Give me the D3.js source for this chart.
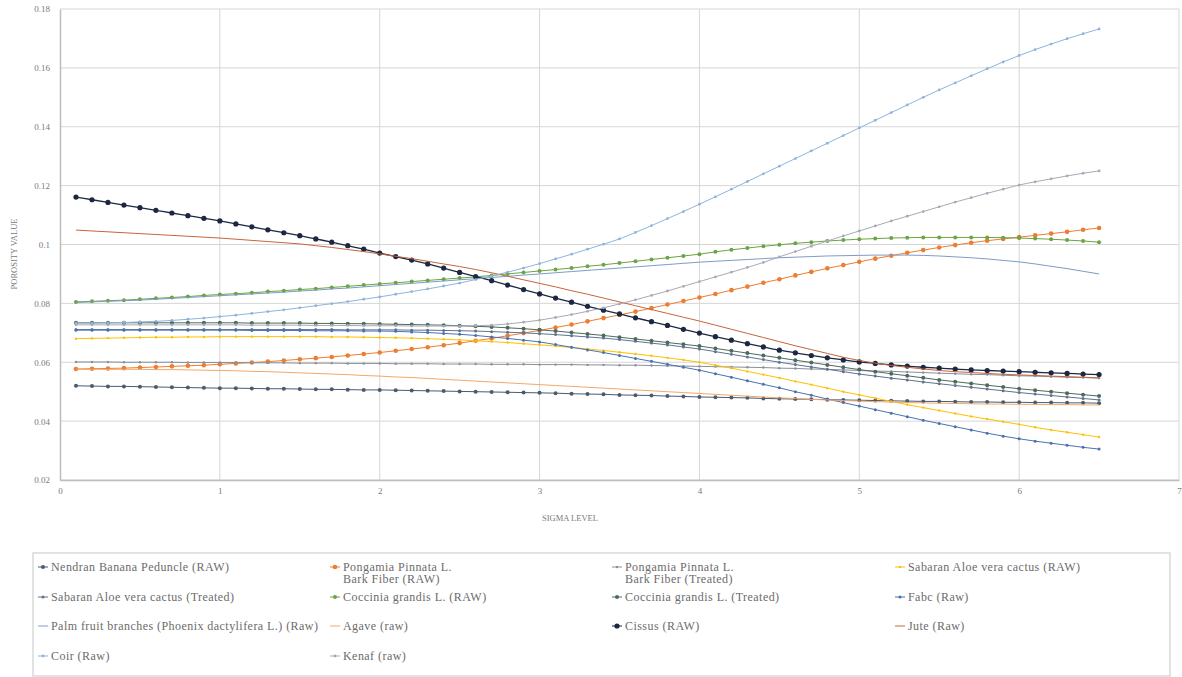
<!DOCTYPE html>
<html>
<head>
<meta charset="utf-8">
<script src="https://cdn.jsdelivr.net/npm/d3@7"></script>
<style>
  html, body { margin: 0; padding: 0; background: #fff; }
  svg { display: block; }
</style>
</head>
<body>
<svg id="chart" width="1182" height="677"></svg>
<script>
// Sigma level sampling points
const sigma = [0.1,0.2,0.3,0.4,0.5,0.6,0.7,0.8,0.9,1.0,1.1,1.2,1.3,1.4,1.5,1.6,1.7,1.8,1.9,2.0,
  2.1,2.2,2.3,2.4,2.5,2.6,2.7,2.8,2.9,3.0,3.1,3.2,3.3,3.4,3.5,3.6,3.7,3.8,3.9,4.0,
  4.1,4.2,4.3,4.4,4.5,4.6,4.7,4.8,4.9,5.0,5.1,5.2,5.3,5.4,5.5,5.6,5.7,5.8,5.9,6.0,
  6.1,6.2,6.3,6.4,6.5];

const xTicks = [0,1,2,3,4,5,6,7];
const yTicks = [0.02,0.04,0.06,0.08,0.1,0.12,0.14,0.16,0.18];

const seriesNames = [
  "Nendran Banana Peduncle (RAW)",
  "Pongamia Pinnata L.\nBark Fiber (RAW)",
  "Pongamia Pinnata L.\nBark Fiber (Treated)",
  "Sabaran Aloe vera cactus (RAW)",
  "Sabaran Aloe vera cactus (Treated)",
  "Coccinia grandis L. (RAW)",
  "Coccinia grandis L. (Treated)",
  "Fabc (Raw)",
  "Palm fruit branches (Phoenix dactylifera L.) (Raw)",
  "Agave (raw)",
  "Cissus (RAW)",
  "Jute (Raw)",
  "Coir (Raw)",
  "Kenaf (raw)"
];

// Porosity values per series, one per sigma point
const nendranRaw = [.0520,.0519,.0518,.0518,.0517,.0516,.0515,.0514,.0513,.0512,.0512,.0511,.0510,.0510,.0509,.0508,.0508,.0507,.0506,.0506,
  .0505,.0504,.0503,.0502,.0501,.0500,.0499,.0498,.0497,.0496,.0495,.0493,.0492,.0491,.0489,.0488,.0487,.0485,.0484,.0482,
  .0481,.0480,.0479,.0477,.0476,.0475,.0474,.0473,.0472,.0471,.0470,.0469,.0468,.0467,.0467,.0466,.0465,.0465,.0464,.0464,
  .0463,.0463,.0462,.0462,.0461];
const pongamiaRaw = [.0577,.0578,.0579,.0580,.0582,.0584,.0586,.0588,.0590,.0593,.0596,.0599,.0602,.0606,.0610,.0614,.0618,.0623,.0628,.0633,
  .0639,.0645,.0651,.0658,.0665,.0673,.0681,.0690,.0699,.0708,.0718,.0728,.0739,.0750,.0761,.0772,.0784,.0796,.0808,.0820,
  .0832,.0845,.0857,.0870,.0882,.0895,.0907,.0919,.0930,.0941,.0952,.0962,.0972,.0981,.0990,.0998,.1006,.1013,.1019,.1025,
  .1031,.1037,.1043,.1050,.1056];
const pongamiaTreated = [.0601,.0601,.0601,.0600,.0600,.0600,.0600,.0599,.0599,.0599,.0599,.0598,.0598,.0598,.0597,.0597,.0597,.0596,.0596,.0596,
  .0595,.0595,.0595,.0594,.0594,.0594,.0593,.0593,.0593,.0592,.0592,.0592,.0591,.0591,.0590,.0590,.0589,.0588,.0587,.0586,
  .0585,.0584,.0583,.0582,.0580,.0579,.0577,.0576,.0574,.0572,.0570,.0569,.0567,.0565,.0563,.0561,.0559,.0558,.0556,.0554,
  .0553,.0551,.0549,.0548,.0546];
const sabaranRaw = [.0680,.0681,.0682,.0683,.0684,.0685,.0685,.0686,.0686,.0687,.0687,.0687,.0687,.0687,.0687,.0687,.0686,.0686,.0685,.0684,
  .0683,.0682,.0680,.0678,.0676,.0673,.0670,.0667,.0663,.0659,.0655,.0650,.0645,.0640,.0634,.0628,.0622,.0615,.0608,.0600,
  .0590,.0580,.0569,.0558,.0547,.0535,.0524,.0512,.0500,.0489,.0478,.0467,.0456,.0446,.0436,.0426,.0416,.0407,.0398,.0389,
  .0379,.0370,.0362,.0354,.0346];
const sabaranTreated = [.0711,.0711,.0711,.0711,.0711,.0711,.0711,.0711,.0711,.0711,.0711,.0711,.0711,.0711,.0711,.0711,.0711,.0710,.0710,.0710,
  .0710,.0709,.0709,.0708,.0707,.0706,.0704,.0702,.0700,.0697,.0694,.0690,.0686,.0682,.0677,.0671,.0665,.0659,.0652,.0645,
  .0636,.0627,.0618,.0609,.0600,.0592,.0584,.0576,.0568,.0560,.0553,.0546,.0540,.0533,.0527,.0521,.0515,.0509,.0503,.0497,
  .0492,.0487,.0482,.0477,.0472];
const cocciniaRaw = [.0805,.0807,.0809,.0811,.0814,.0817,.0820,.0823,.0827,.0830,.0833,.0836,.0840,.0843,.0847,.0850,.0854,.0858,.0862,.0866,
  .0870,.0874,.0878,.0882,.0886,.0890,.0895,.0900,.0905,.0910,.0915,.0920,.0926,.0931,.0937,.0943,.0949,.0955,.0961,.0967,
  .0975,.0982,.0988,.0994,.0999,.1004,.1008,.1012,.1015,.1018,.1020,.1022,.1023,.1024,.1024,.1024,.1024,.1024,.1023,.1022,
  .1020,.1018,.1015,.1012,.1008];
const cocciniaTreated = [.0734,.0734,.0734,.0734,.0734,.0734,.0734,.0734,.0734,.0734,.0734,.0733,.0733,.0733,.0733,.0732,.0732,.0731,.0731,.0730,
  .0729,.0728,.0727,.0726,.0724,.0722,.0720,.0717,.0714,.0710,.0706,.0701,.0696,.0691,.0685,.0679,.0673,.0667,.0661,.0655,
  .0647,.0639,.0631,.0623,.0615,.0607,.0599,.0591,.0583,.0575,.0568,.0561,.0554,.0547,.0540,.0534,.0528,.0522,.0516,.0510,
  .0505,.0500,.0495,.0490,.0485];
const fabcRaw = [.0709,.0709,.0709,.0709,.0709,.0709,.0709,.0709,.0709,.0709,.0709,.0708,.0708,.0708,.0708,.0707,.0707,.0707,.0706,.0706,
  .0705,.0703,.0701,.0698,.0695,.0691,.0686,.0681,.0675,.0669,.0660,.0651,.0642,.0633,.0623,.0613,.0603,.0593,.0583,.0573,
  .0561,.0549,.0537,.0525,.0513,.0500,.0488,.0475,.0463,.0451,.0439,.0427,.0415,.0403,.0392,.0381,.0370,.0359,.0349,.0340,
  .0332,.0325,.0318,.0311,.0305];
const palmRaw = [.0803,.0805,.0807,.0809,.0811,.0814,.0817,.0820,.0823,.0826,.0829,.0832,.0835,.0838,.0842,.0845,.0849,.0852,.0856,.0860,
  .0864,.0868,.0872,.0876,.0880,.0884,.0888,.0892,.0896,.0900,.0904,.0908,.0912,.0916,.0920,.0924,.0928,.0932,.0936,.0940,
  .0943,.0946,.0949,.0952,.0955,.0957,.0959,.0961,.0962,.0963,.0964,.0964,.0964,.0963,.0961,.0958,.0955,.0951,.0946,.0941,
  .0934,.0926,.0918,.0909,.0900];
const agaveRaw = [.0576,.0576,.0576,.0576,.0576,.0575,.0575,.0574,.0573,.0572,.0571,.0569,.0568,.0566,.0564,.0562,.0560,.0558,.0555,.0553,
  .0550,.0548,.0545,.0542,.0539,.0536,.0533,.0530,.0527,.0524,.0521,.0518,.0515,.0512,.0509,.0506,.0503,.0500,.0497,.0494,
  .0491,.0488,.0485,.0482,.0479,.0477,.0474,.0472,.0470,.0468,.0466,.0465,.0463,.0462,.0461,.0460,.0459,.0458,.0458,.0457,
  .0457,.0456,.0456,.0455,.0455];
const cissusRaw = [.1161,.1152,.1143,.1134,.1125,.1116,.1107,.1098,.1089,.1080,.1070,.1060,.1050,.1040,.1030,.1019,.1008,.0996,.0984,.0971,
  .0959,.0947,.0934,.0920,.0905,.0891,.0877,.0862,.0847,.0832,.0818,.0804,.0790,.0777,.0764,.0751,.0738,.0725,.0712,.0699,
  .0687,.0675,.0663,.0652,.0641,.0632,.0623,.0615,.0608,.0601,.0596,.0591,.0587,.0583,.0580,.0577,.0574,.0572,.0570,.0568,
  .0566,.0564,.0562,.0560,.0558];
const juteRaw = [.1049,.1046,.1043,.1040,.1037,.1034,.1031,.1028,.1025,.1022,.1018,.1014,.1010,.1006,.1002,.0996,.0990,.0983,.0976,.0968,
  .0960,.0952,.0943,.0934,.0925,.0915,.0904,.0892,.0880,.0868,.0856,.0843,.0831,.0818,.0805,.0792,.0779,.0766,.0753,.0740,
  .0726,.0712,.0698,.0684,.0670,.0656,.0643,.0630,.0617,.0606,.0597,.0589,.0583,.0577,.0572,.0568,.0565,.0562,.0559,.0557,
  .0555,.0553,.0551,.0549,.0547];
const coirRaw = [.0733,.0733,.0734,.0735,.0737,.0739,.0742,.0746,.0750,.0755,.0760,.0766,.0772,.0778,.0785,.0792,.0799,.0806,.0814,.0822,
  .0831,.0840,.0849,.0859,.0869,.0881,.0893,.0906,.0920,.0935,.0951,.0967,.0984,.1001,.1019,.1041,.1064,.1088,.1112,.1137,
  .1162,.1188,.1214,.1240,.1266,.1292,.1318,.1344,.1370,.1396,.1422,.1448,.1474,.1500,.1525,.1549,.1573,.1597,.1620,.1642,
  .1662,.1681,.1699,.1716,.1732];
const kenafRaw = [.0727,.0727,.0727,.0727,.0727,.0727,.0727,.0727,.0727,.0727,.0727,.0726,.0726,.0726,.0726,.0725,.0725,.0725,.0724,.0724,
  .0724,.0723,.0723,.0723,.0723,.0724,.0726,.0730,.0736,.0743,.0752,.0762,.0773,.0785,.0798,.0812,.0827,.0842,.0858,.0874,
  .0890,.0906,.0922,.0939,.0958,.0976,.0994,.1012,.1029,.1046,.1063,.1080,.1096,.1112,.1128,.1144,.1159,.1174,.1188,.1202,
  .1213,.1223,.1233,.1242,.1250];

const seriesValues = [nendranRaw, pongamiaRaw, pongamiaTreated, sabaranRaw, sabaranTreated,
  cocciniaRaw, cocciniaTreated, fabcRaw, palmRaw, agaveRaw, cissusRaw, juteRaw, coirRaw, kenafRaw];

// Line colour and marker radius for each series (0 = plain line)
const seriesColors = ["#4b5a6e","#ed7d31","#8a8f99","#ffc000","#5f7391","#6aa443","#4d6a5e",
  "#4a72b0","#7e9cc4","#f2a86a","#1c2741","#c8643a","#8fb4dc","#a9aab6"];
const markerRadius = [2, 2.3, 1.2, 1.2, 1.5, 2, 2, 1.5, 0, 0, 2.6, 0, 1.4, 1.4];

const FONT = "'Liberation Serif', 'Times New Roman', 'DejaVu Serif', serif";

const svg = d3.select("#chart").attr("font-family", FONT);
const margin = {left: 60, right: 1179, top: 9, bottom: 480};

const x = d3.scaleLinear().domain([0, 7]).range([margin.left, margin.right]);
const y = d3.scaleLinear().domain([0.02, 0.18]).range([margin.bottom, margin.top]);

// Gridlines
const grid = svg.append("g");
grid.selectAll("line.h").data(yTicks).join("line")
  .attr("x1", x(0)).attr("x2", x(7))
  .attr("y1", d => y(d)).attr("y2", d => y(d))
  .attr("stroke", "#d6d6d6").attr("stroke-width", 1);
grid.selectAll("line.v").data(xTicks.slice(1)).join("line")
  .attr("x1", d => x(d)).attr("x2", d => x(d))
  .attr("y1", y(0.18)).attr("y2", y(0.02))
  .attr("stroke", "#d6d6d6").attr("stroke-width", 1);

// Axes
const xAxis = d3.axisBottom(x).tickValues(xTicks).tickSize(0).tickPadding(8).tickFormat(d3.format("d"));
const yAxis = d3.axisLeft(y).tickValues(yTicks).tickSize(0).tickPadding(10).tickFormat(d => String(+d.toFixed(2)));

const gx = svg.append("g").attr("transform", `translate(0,${margin.bottom})`).call(xAxis);
const gy = svg.append("g").attr("transform", `translate(${margin.left},0)`).call(yAxis);
[gx, gy].forEach(g => {
  g.attr("font-family", FONT);
  g.select(".domain").attr("stroke", "#bdbdbd").attr("stroke-width", 1.5);
  g.selectAll("text").attr("fill", "#7a7a7a").attr("font-size", 9).attr("font-family", FONT);
});

// Axis titles
svg.append("text").attr("x", 570).attr("y", 521).attr("text-anchor", "middle")
  .attr("fill", "#7a7a7a").attr("font-size", 8.5).attr("font-family", FONT).text("SIGMA LEVEL");
svg.append("text").attr("transform", "translate(17,254) rotate(-90)").attr("text-anchor", "middle")
  .attr("fill", "#7a7a7a").attr("font-size", 8.5).attr("font-family", FONT).text("POROSITY VALUE");

// Series lines and markers
const line = d3.line().x((d, i) => x(sigma[i])).y(d => y(d)).curve(d3.curveMonotoneX);
const plot = svg.append("g");
seriesValues.forEach((vals, s) => {
  const g = plot.append("g");
  g.append("path").datum(vals).attr("d", line)
    .attr("fill", "none").attr("stroke", seriesColors[s]).attr("stroke-width", s === 10 ? 1.3 : 1);
  if (markerRadius[s] > 0) {
    g.selectAll("circle").data(vals).join("circle")
      .attr("cx", (d, i) => x(sigma[i])).attr("cy", d => y(d))
      .attr("r", markerRadius[s]).attr("fill", seriesColors[s]);
  }
});

// Legend
const legend = svg.append("g");
legend.append("rect").attr("x", 33).attr("y", 553).attr("width", 1137).attr("height", 123)
  .attr("fill", "none").attr("stroke", "#d9d9d9").attr("stroke-width", 1.5);
const colX = [38, 330, 612, 895];
const rowY = [567, 597, 626, 656];
seriesNames.forEach((name, i) => {
  const cx = colX[i % 4], cy = rowY[Math.floor(i / 4)];
  const item = legend.append("g");
  item.append("line").attr("x1", cx).attr("x2", cx + 10).attr("y1", cy).attr("y2", cy)
    .attr("stroke", seriesColors[i]).attr("stroke-width", 1);
  if (markerRadius[i] > 0) {
    item.append("circle").attr("cx", cx + 5).attr("cy", cy).attr("r", markerRadius[i]).attr("fill", seriesColors[i]);
  }
  const lines = name.split("\n");
  const t = item.append("text").attr("x", cx + 13).attr("y", cy + 3.5)
    .attr("fill", "#6b6b6b").attr("font-size", 12).attr("font-family", FONT)
    .attr("letter-spacing", 0.45);
  lines.forEach((ln, k) => {
    t.append("tspan").attr("x", cx + 13).attr("dy", k === 0 ? 0 : 12).text(ln);
  });
});
</script>
</body>
</html>
